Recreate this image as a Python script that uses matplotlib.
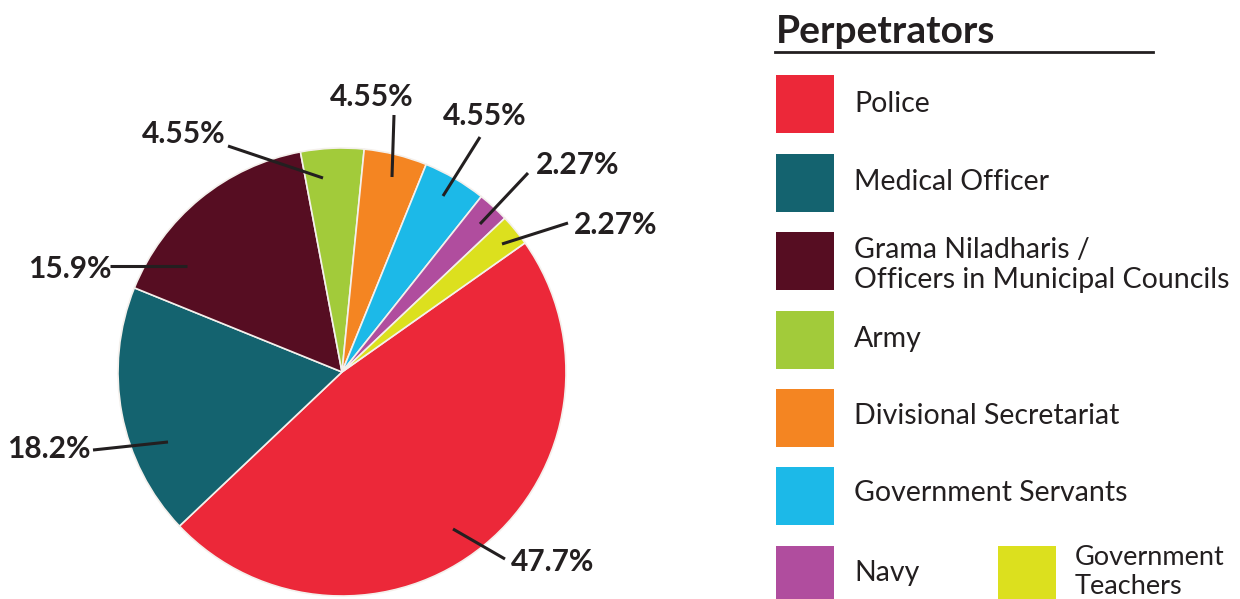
import matplotlib.pyplot as plt
from matplotlib.patches import Rectangle

plt.rcParams['font.family'] = ['Lato', 'DejaVu Sans']

# perpetrator shares, clockwise from the police slice
categories = ['Police', 'Medical Officer',
              'Grama Niladharis /\nOfficers in Municipal Councils',
              'Army', 'Divisional Secretariat', 'Government Servants',
              'Navy', 'Government\nTeachers']
shares = [47.7, 18.2, 15.9, 4.55, 4.55, 4.55, 2.27, 2.27]
share_labels = ['47.7%', '18.2%', '15.9%', '4.55%', '4.55%', '4.55%', '2.27%', '2.27%']
colors = ['#EC2839', '#14636F', '#560D22', '#A2CB3A',
          '#F48522', '#1CB9E8', '#B04D9E', '#DCE01E']

W, H = 1240, 599
INK = '#231F20'


def py(y):
    # image rows (top down) -> axes units (bottom up)
    return H - y


fig = plt.figure(figsize=(W / 100, H / 100), dpi=100)
ax = fig.add_axes([0, 0, 1, 1])

cx, cy, R = 342, 372, 224
ax.pie(shares, colors=colors, startangle=35.2, counterclock=False,
       center=(cx, py(cy)), radius=R,
       wedgeprops=dict(edgecolor='#F4F0EC', linewidth=1.2))

# callout layout: text centre, leader start, leader end (pixels)
callouts = [
    ((553, 562), (505, 559), (453, 529)),
    ((49, 449), (93, 450), (168, 442)),
    ((70, 269), (110, 266), (187, 266)),
    ((184, 134), (228, 146), (323, 178)),
    ((372, 97), (394, 115), (392, 177)),
    ((485, 116), (480, 137), (443, 196)),
    ((578, 165), (528, 173), (480, 224)),
    ((616, 225), (568, 223), (502, 244)),
]
for lab, (txt, p0, p1) in zip(share_labels, callouts):
    ax.text(txt[0], py(txt[1]), lab, ha='center', va='center',
            fontsize=21.5, fontweight='bold', color=INK)
    ax.plot([p0[0], p1[0]], [py(p0[1]), py(p1[1])], color=INK,
            lw=2.2, solid_capstyle='butt')

# legend block
ax.text(776, py(43), 'Perpetrators', ha='left', va='baseline',
        fontsize=28, fontweight='bold', color=INK)
ax.plot([775, 1153], [py(52), py(52)], color=INK, lw=2)

swatch_pos = [(776, 75), (776, 154), (776, 232), (776, 311),
              (776, 389), (776, 467), (776, 546), (998, 546)]
text_pos = [(854, 104), (854, 182), (854, 265), (854, 339),
            (854, 416), (854, 493), (854, 573), (1075, 572)]
sizes = [20.5] * 7 + [19.5]
for name, col, (sx, sy), (tx, ty), fs in zip(categories, colors, swatch_pos,
                                             text_pos, sizes):
    ax.add_patch(Rectangle((sx, py(sy + 58)), 58, 58, facecolor=col,
                           edgecolor='none'))
    ax.text(tx, py(ty), name, ha='left', va='center', fontsize=fs,
            color=INK, linespacing=1.2)

ax.set_xlim(0, W)
ax.set_ylim(0, H)
ax.set_aspect('equal')
ax.axis('off')

fig.savefig('out.png', dpi=100)
